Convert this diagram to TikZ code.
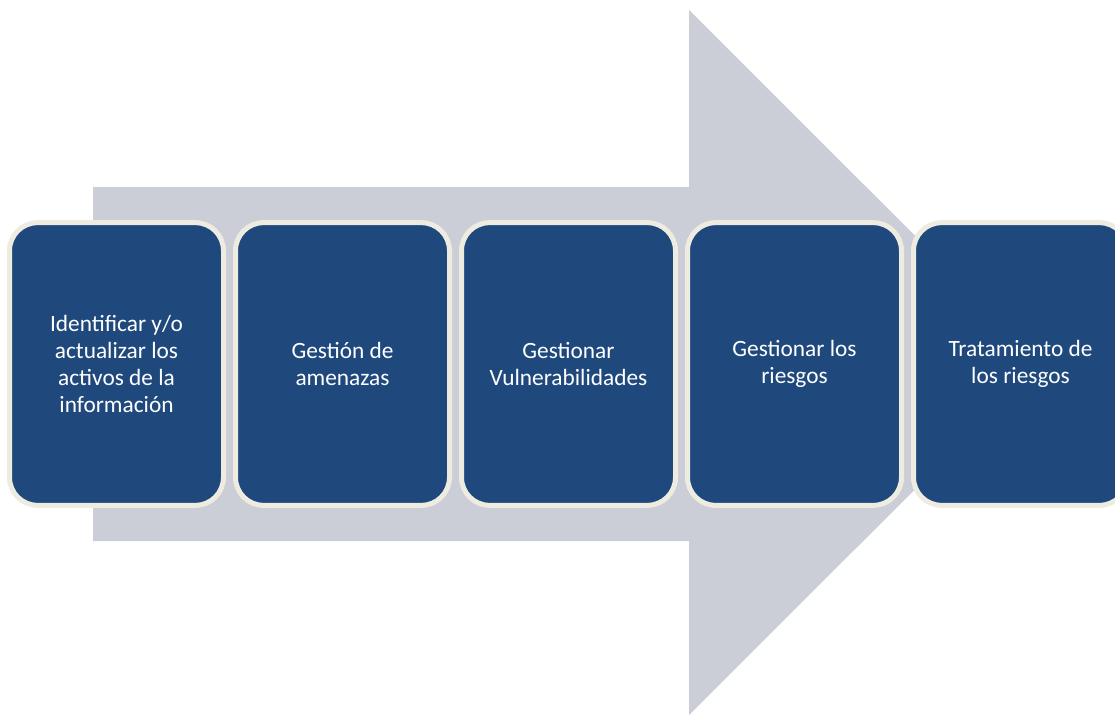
\documentclass[tikz,border=0pt]{standalone}
\usepackage{fontspec}
\setmainfont{Carlito}
\definecolor{stepblue}{RGB}{31,73,125}
\definecolor{stepcream}{RGB}{238,236,225}
\definecolor{arrowgray}{RGB}{203,205,215}
\tikzset{
  stepbox/.style={draw=stepcream, line width=3.75pt, fill=stepblue,
    rounded corners=21pt, minimum width=160.5pt, minimum height=212pt,
    text=white, align=center, inner sep=0pt,
    font=\fontsize{17.5}{20.3}\selectfont}
}
\begin{document}
\begin{tikzpicture}[x=0.75pt,y=-0.75pt]
            \clip (0,0) rectangle (1115,715);
            \useasboundingbox (0,0) rectangle (1115,715);

            % Big arrow behind the steps
            \fill[arrowgray] (93,187) -- (689,187) -- (689,10) -- (1042,362.5)
              -- (689,715) -- (689,541) -- (93,541) -- cycle;

            % Steps
            \node[stepbox] (identificar) at (116.5,364) {Identificar y/o\\ actualizar los\\ activos de la\\ información};
            \node[stepbox] (amenazas) at (342.5,364) {Gestión de\\ amenazas};
            \node[stepbox] (vulnerabilidades) at (568.5,364) {Gestionar\\ Vulnerabilidades};
            \node[stepbox] (riesgos) at (794.5,364) {Gestionar los\\ riesgos};
            \node[stepbox] (tratamiento) at (1020.5,364) {Tratamiento de\\ los riesgos};
        \end{tikzpicture}
\end{document}
